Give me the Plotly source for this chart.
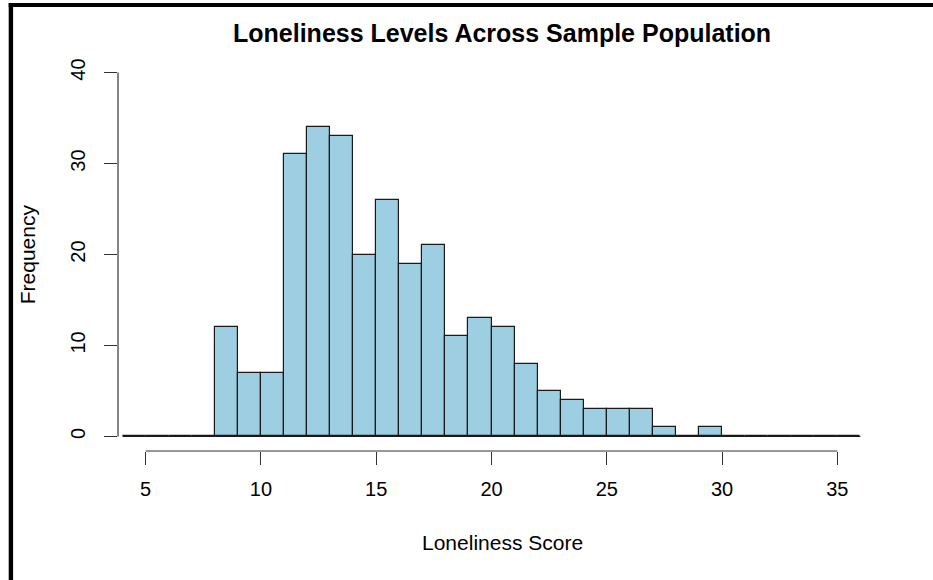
import plotly.graph_objects as go

# ---- data ----
bin_edges = list(range(4, 37))
counts = [0, 0, 0, 0,
          12, 7, 7, 31, 34, 33, 20, 26, 19, 21, 11, 13, 12, 8, 5, 4, 3, 3, 3, 1, 0, 1,
          0, 0, 0, 0, 0, 0]
x_ticks = [5, 10, 15, 20, 25, 30, 35]
y_ticks = [0, 10, 20, 30, 40]
title = "Loneliness Levels Across Sample Population"
x_label = "Loneliness Score"
y_label = "Frequency"

centers = [(a + b) / 2 for a, b in zip(bin_edges[:-1], bin_edges[1:])]

W, H = 933, 580
ML, MR, MT, MB = 117.6, 68.4, 58.2, 129.0
xr = [3.8, 36.2]
yr = [-1.6, 41.6]
pw = W - ML - MR
ph = H - MT - MB


def px_x(p):
    return (p - ML) / pw


def px_y(p):
    return (H - MB - p) / ph


FONT = "Liberation Sans, Arial, Helvetica, sans-serif"

fig = go.Figure()
fig.add_trace(go.Bar(
    x=centers, y=counts, width=1,
    marker=dict(color="#9ecee1", line=dict(color="#1a1a1a", width=1.2)),
    showlegend=False, hoverinfo="x+y",
))
# baseline (zero-height bins)
fig.add_trace(go.Scatter(
    x=[bin_edges[0], bin_edges[-1]], y=[0, 0], mode="lines",
    line=dict(color="#1a1a1a", width=1.2), showlegend=False, hoverinfo="skip",
))

shapes = [
    # x axis line spanning first to last tick
    dict(type="line", xref="x", yref="paper", x0=x_ticks[0], x1=x_ticks[-1], y0=0, y1=0,
         line=dict(color="#333333", width=1.2)),
    # y axis line spanning first to last tick
    dict(type="line", xref="paper", yref="y", x0=0, x1=0, y0=y_ticks[0], y1=y_ticks[-1],
         line=dict(color="#333333", width=1.2)),
    # image frame (top and left)
    dict(type="rect", xref="paper", yref="paper", x0=px_x(8.3), x1=px_x(933), y0=px_y(3.3), y1=px_y(7.3),
         fillcolor="black", line=dict(width=0), layer="above"),
    dict(type="rect", xref="paper", yref="paper", x0=px_x(8.3), x1=px_x(12.7), y0=px_y(3.3), y1=px_y(580),
         fillcolor="black", line=dict(width=0), layer="above"),
]

annotations = [
    dict(text="<b>" + title + "</b>", xref="paper", yref="paper", x=px_x(502), y=px_y(33),
         xanchor="center", yanchor="middle", showarrow=False,
         font=dict(family=FONT, size=25, color="black")),
    dict(text=x_label, xref="paper", yref="paper", x=px_x(502), y=px_y(542),
         xanchor="center", yanchor="middle", showarrow=False,
         font=dict(family=FONT, size=21, color="black")),
    dict(text=y_label, xref="paper", yref="paper", x=px_x(27), y=px_y(254), textangle=-90,
         xanchor="center", yanchor="middle", showarrow=False,
         font=dict(family=FONT, size=21, color="black")),
]

fig.update_layout(
    width=W, height=H,
    margin=dict(l=ML, r=MR, t=MT, b=MB, pad=0),
    paper_bgcolor="white", plot_bgcolor="white",
    bargap=0,
    shapes=shapes, annotations=annotations,
    xaxis=dict(range=xr, tickvals=x_ticks, ticktext=[str(v) for v in x_ticks],
               showgrid=False, zeroline=False, showline=False,
               ticks="outside", ticklen=12.7, tickwidth=1.2, tickcolor="#333333",
               ticklabelstandoff=7,
               tickfont=dict(family=FONT, size=20, color="black")),
    yaxis=dict(range=yr, tickvals=y_ticks, ticktext=[str(v) for v in y_ticks],
               showgrid=False, zeroline=False, showline=False,
               ticks="outside", ticklen=12.7, tickwidth=1.2, tickcolor="#333333",
               tickangle=-90, ticklabelstandoff=11,
               tickfont=dict(family=FONT, size=20, color="black")),
)

fig.write_html("out.html", config={"displayModeBar": False},
               post_script="document.body.style.margin='0';document.body.style.overflow='hidden';")
